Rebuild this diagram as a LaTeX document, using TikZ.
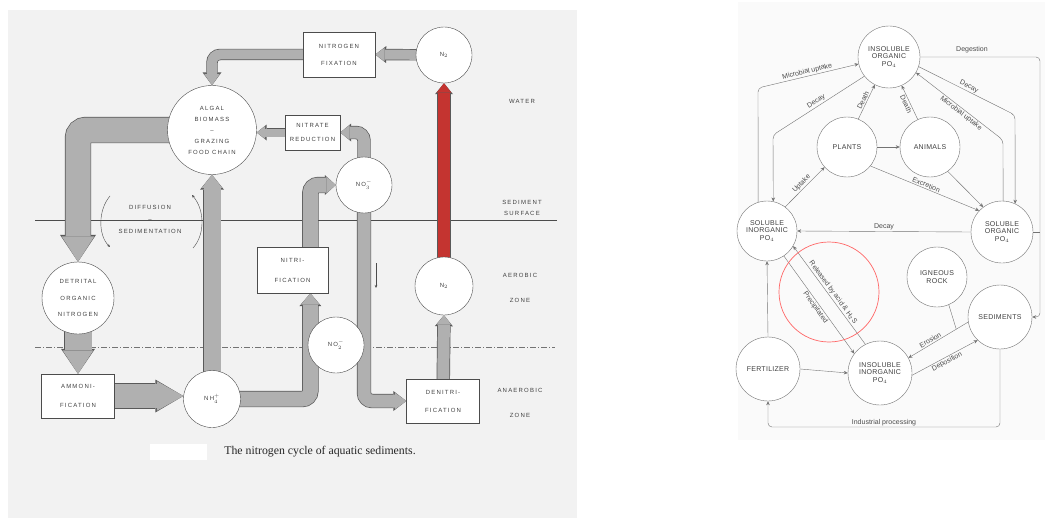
\documentclass[tikz,border=0pt]{standalone}
\usepackage{fontspec}
\setsansfont{Liberation Sans}
\newfontfamily\scanfont[LetterSpace=20]{Liberation Sans}
\newfontfamily\phosfont[LetterSpace=4]{Liberation Sans}
\newfontfamily\capserif{Liberation Serif}
\usetikzlibrary{arrows.meta,calc}

\pgfdeclarelayer{paper}
\pgfdeclarelayer{flows}
\pgfsetlayers{paper,flows,main}

\definecolor{flowgray}{RGB}{176,176,176}
\definecolor{flowred}{RGB}{196,52,48}

% fat band arrow: [fill]{band width}{head length}{head width}{path}
\newcommand{\flow}[5][flowgray]{%
  \pgfmathsetmacro\flowout{#2+1.4}%
  \pgfmathsetmacro\headlout{#3+1}%
  \pgfmathsetmacro\headwout{#4+2}%
  \pgfmathsetmacro\headlin{#3-0.6}%
  \pgfmathsetmacro\headwin{#4-1.4}%
  \draw[line width=\flowout pt, black!65,
    -{Triangle[length=\headlout pt, width=\headwout pt, line width=0pt]}] #5;
  \draw[line width=#2pt, #1,
    -{Triangle[length=\headlin pt, width=\headwin pt, line width=0pt]}] #5;}

\begin{document}
\begin{tikzpicture}[
    x=1pt, y=-1pt,
    nlabel/.style={font={\scanfont\fontsize{6}{#1}\selectfont}, text=black!75, align=center, inner sep=0pt},
    nlabel/.default=7,
    nbox/.style={draw=black!70, fill=white, align=center, inner sep=0pt,
      font={\scanfont\fontsize{6}{#1}\selectfont}, text=black!75},
    nbox/.default=18,
    ncirc/.style={circle, draw=black!70, fill=white, align=center, inner sep=0pt,
      font={\scanfont\fontsize{6}{#1}\selectfont}, text=black!75},
    ncirc/.default=12,
    pcirc/.style={circle, draw=black!55, fill=white, align=center, inner sep=0pt,
      font={\phosfont\fontsize{7}{7.5}\selectfont}, text=black!75},
    plink/.style={draw=black!55, rounded corners=4pt, -{Stealth[length=4pt,width=3.5pt]}},
    plabel/.style={font=\sffamily\fontsize{7}{7.5}\selectfont, text=black!70, inner sep=1.2pt}
  ]
  \useasboundingbox (0,0) rectangle (1045,519);

  % paper of the two scans
  \begin{pgfonlayer}{paper}
    \fill[black!5] (8,10) rectangle (577,518);
    \fill[black!2] (738,2) rectangle (1045,440);
    \fill[white] (150,444) rectangle (207,460);
  \end{pgfonlayer}

  % ---- nitrogen cycle ----
  \node[ncirc=11, minimum size=89pt] (algae) at (212,130) {ALGAL\\BIOMASS\\\textendash\\GRAZING\\FOOD CHAIN};
  \node[nbox=17, minimum width=72pt, minimum height=45pt] (fix) at (339,54.5) {NITROGEN\\FIXATION};
  \node[ncirc, minimum size=56pt] (nup) at (444,55) {N$_2$};
  \node[nbox=14, minimum width=55pt, minimum height=35pt] (red) at (312.5,132.5) {NITRATE\\REDUCTION};
  \node[ncirc, minimum size=56pt] (no3) at (364,185) {NO$_3^-$};
  \node[ncirc=16.5, minimum size=72pt] (det) at (78,298) {DETRITAL\\ORGANIC\\NITROGEN};
  \node[nbox=19, minimum width=73pt, minimum height=44pt] (amm) at (78,396) {AMMONI-\\FICATION};
  \node[ncirc, minimum size=57pt] (nh4) at (212,399) {NH$_4^+$};
  \node[nbox=20, minimum width=71pt, minimum height=46pt] (nit) at (292.5,270) {NITRI-\\FICATION};
  \node[ncirc, minimum size=56pt] (no2) at (336,345) {NO$_2^-$};
  \node[nbox=18, minimum width=73pt, minimum height=44pt] (den) at (443,401) {DENITRI-\\FICATION};
  \node[ncirc, minimum size=58pt] (ndown) at (444,286) {N$_2$};

  \node[nlabel] (water) at (522,101) {WATER};
  \node[nlabel=11] (surface) at (522,207.5) {SEDIMENT\\SURFACE};
  \node[nlabel=25] (aerobic) at (520,287.5) {AEROBIC\\ZONE};
  \node[nlabel=25] (anaerobic) at (520,402.5) {ANAEROBIC\\ZONE};
  \node[nlabel=12] (diffusion) at (150,219) {DIFFUSION\\\textendash\\SEDIMENTATION};

  \coordinate (surfwest) at (35,220);
  \coordinate (surfeast) at (557,220);
  \coordinate (zonewest) at (35,347);
  \coordinate (zoneeast) at (555,347);
  \begin{pgfonlayer}{paper}
    \draw[black!70, line width=0.8pt] (surfwest) -- (surfeast);
    \draw[black!55, dash pattern=on 6pt off 2pt on 1pt off 2pt] (zonewest) -- (zoneeast);
  \end{pgfonlayer}

  \coordinate (nitin) at ($(nit.south west)!0.75!(nit.south east)$);
  \coordinate (nitmid) at ($(nit.west)!0.75!(nit.east)$);

  \begin{pgfonlayer}{flows}
    \begin{scope}[rounded corners=8pt]
      \flow{10}{10}{15}{(nup.center) -- (fix.east)}
      \flow{10}{12}{17}{(fix.center) -| (algae.north)}
      \flow{8}{9}{14}{(red.center) -- (red.center -| algae.east)}
      \flow{12}{10}{16}{(no3.center) |- (red.east)}
      \flow{25}{26}{34}{(algae.center) -| (det.north)}
      \flow{27}{24}{32}{(det.center) -- (amm.north)}
      \flow{24}{27}{31}{(amm.center) -- (amm.center -| nh4.west)}
      \flow{17}{14}{22}{(nh4.center) -- (algae.south)}
      \flow{15}{12}{20}{(nh4.center) -| (nitin)}
      \flow{15}{10}{18}{(nitmid) |- (no3.west)}
      \flow{13}{12}{18}{(no3.center) |- (den.west)}
      \flow{12}{10}{16}{(den.center) -- (ndown.south)}
      \flow[flowred]{12}{10}{16}{(ndown.center) -- (nup.south)}
    \end{scope}
  \end{pgfonlayer}

  % thin arrows
  \coordinate (sinktop) at (376,263);
  \coordinate (sinkend) at (376,288);
  \draw[black!70, -{Stealth[length=3pt,width=2.5pt]}] (sinktop) -- (sinkend);
  \coordinate (diffa) at (110,196);
  \coordinate (diffb) at (110,247);
  \coordinate (seda) at (193,248);
  \coordinate (sedb) at (192,195);
  \draw[black!70, -{Stealth[length=3pt,width=2.5pt]}] (diffa) .. controls (98,210) and (98,235) .. (diffb);
  \draw[black!70, -{Stealth[length=3pt,width=2.5pt]}] (seda) .. controls (205,235) and (205,210) .. (sedb);

  \node[font=\capserif\fontsize{11.8}{13}\selectfont, text=black!85] (caption) at (320,452)
    {The nitrogen cycle of aquatic sediments.};

  % ---- phosphorus cycle ----
  \node[pcirc, minimum size=62pt] (iop) at (889,57) {INSOLUBLE\\ORGANIC\\PO$_4$};
  \node[pcirc, minimum size=60pt] (plants) at (847,147) {PLANTS};
  \node[pcirc, minimum size=60pt] (animals) at (930,147) {ANIMALS};
  \node[pcirc, minimum size=60pt] (sip) at (767,231) {SOLUBLE\\INORGANIC\\PO$_4$};
  \node[pcirc, minimum size=62pt] (sop) at (1002,232) {SOLUBLE\\ORGANIC\\PO$_4$};
  \node[pcirc, minimum size=60pt] (rock) at (937,277) {IGNEOUS\\ROCK};
  \node[pcirc, minimum size=64pt] (sed) at (1000,317) {SEDIMENTS};
  \node[pcirc, minimum size=64pt] (fert) at (768,369) {FERTILIZER};
  \node[pcirc, minimum size=64pt] (iip) at (880,373) {INSOLUBLE\\INORGANIC\\PO$_4$};

  \coordinate (rail) at (1040,0);
  \coordinate (mu1) at (758,88);
  \coordinate (dk1) at (773,135);
  \coordinate (dk2) at (1015,115);
  \coordinate (mu2) at (1003,140);
  \coordinate (ipline) at (0,427);
  \coordinate (rockjoin) at ($(sed.189)!0.2!(iip.28)$);

  \draw[plink] (iop.east) -| (rail |- sed.east) -- (sed.east);
  \draw[plink, -] (sop.east) -- (sop.east -| rail);
  \node[plabel] (degestion) at (972,50) {Degestion};
  \draw[plink] (sip.107) -- (mu1) -- node[plabel, sloped, above] {Microbial uptake} (iop.193);
  \draw[plink] (iop.218) -- node[plabel, sloped, above] {Decay} (dk1) -- (sip.78);
  \draw[plink] (plants.68) -- node[plabel, sloped, above] {Death} (iop.243);
  \draw[plink] (animals.114) -- node[plabel, sloped, below] {Death} (iop.294);
  \draw[plink] (plants.east) -- (animals.west);
  \draw[plink] (plants.-39) -- node[plabel, sloped, above] {Excretion} (sop.137);
  \draw[plink] (animals.-54) -- (sop.127);
  \draw[plink] (iop.-18) -- node[plabel, sloped, above] {Decay} (dk2) -- (sop.65);
  \draw[plink] (sop.88) -- (mu2) -- node[plabel, sloped, below, pos=0.45] {Microbial uptake} (iop.-30);
  \draw[plink] (sop.west) -- node[plabel, above] {Decay} (sip.east);
  \draw[plink] (sip.53) -- node[plabel, sloped, above] {Uptake} (plants.222);
  \draw[plink] (iip.117) -- node[plabel, sloped, above] {Released by acid \& H$_2$S} (sip.-30);
  \draw[plink] (sip.-56) -- node[plabel, sloped, below] {Precipitated} (iip.143);
  \draw[plink] (fert.north) -- (sip.south);
  \draw[plink] (fert.east) -- (iip.west);
  \draw[plink] (sed.189) -- node[plabel, sloped, above, pos=0.6] {Erosion} (iip.28);
  \draw[plink, -] (rock.-67) -- (rockjoin);
  \draw[plink] (iip.-4) -- node[plabel, sloped, below] {Deposition} (sed.226);
  \draw[plink] (sed.south) |- node[plabel, above, pos=0.75] {Industrial processing} (fert.south |- ipline) -- (fert.south);

  \node[circle, draw=red!60, line width=0.7pt, minimum size=100pt] (mark) at (829,292) {};
\end{tikzpicture}
\end{document}
